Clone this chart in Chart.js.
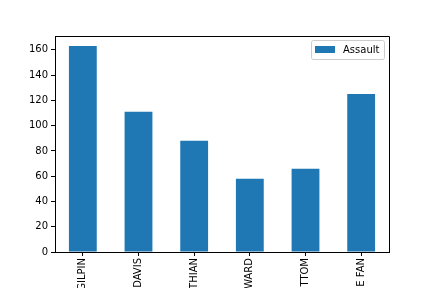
<!DOCTYPE html>
<html lang="en">
<head>
    <meta charset="UTF-8">
    <title>Assault</title>
    <script src="https://cdn.jsdelivr.net/npm/chart.js"></script>
    <style>
        html, body { margin: 0; padding: 0; background: #fff; }
        #wrap { width: 432px; height: 288px; }
    </style>
</head>
<body>

<div id="wrap">
    <canvas id="barChart" width="432" height="288"></canvas>
</div>

<script>
    const categories = ['GILPIN', 'DAVIS', 'THIAN', 'WARD', 'TTOM', 'E FAN'];
    const assault = [163, 111, 88, 58, 66, 125];
    const yTicks = [0, 20, 40, 60, 80, 100, 120, 140, 160];

    const FONT = 'DejaVu Sans';

    // matplotlib style legend box, upper right
    const legendBox = {
        id: 'legendBox',
        afterDraw(chart) {
            const ctx = chart.ctx;
            const area = chart.chartArea;
            const x = area.right - 78, y = area.top + 4, w = 73, h = 19;
            ctx.save();
            ctx.fillStyle = 'rgba(255,255,255,0.8)';
            ctx.strokeStyle = '#cccccc';
            ctx.lineWidth = 1;
            ctx.beginPath();
            ctx.roundRect(x + 0.5, y + 0.5, w, h, 2);
            ctx.fill();
            ctx.stroke();
            ctx.fillStyle = '#1f77b4';
            ctx.fillRect(x + 4, y + 6, 20, 7);
            ctx.fillStyle = '#000';
            ctx.font = '10px ' + FONT;
            ctx.textBaseline = 'middle';
            ctx.fillText('Assault', x + 32, y + 10);
            ctx.restore();
        }
    };

    const chart = new Chart(document.getElementById('barChart').getContext('2d'), {
        type: 'bar',
        data: {
            labels: categories,
            datasets: [{
                label: 'Assault',
                data: assault,
                backgroundColor: '#1f77b4',
                borderWidth: 0,
                barPercentage: 0.5,
                categoryPercentage: 1.0
            }]
        },
        options: {
            responsive: false,
            animation: false,
            layout: { padding: { top: 36, right: 43, left: 0, bottom: 0 } },
            plugins: {
                legend: { display: false },
                tooltip: { enabled: false }
            },
            scales: {
                x: {
                    offset: true,
                    grid: { drawOnChartArea: false, color: '#000', tickLength: 4, offset: false },
                    border: { color: '#000', width: 1 },
                    ticks: {
                        color: '#000',
                        font: { family: FONT, size: 10 },
                        maxRotation: 90,
                        minRotation: 90,
                        padding: 2,
                        autoSkip: false
                    },
                    afterFit(scale) { scale.height = 36; }
                },
                y: {
                    min: 0,
                    max: 171,
                    grid: { drawOnChartArea: false, color: '#000', tickLength: 4 },
                    border: { color: '#000', width: 1 },
                    afterBuildTicks(scale) {
                        scale.ticks = yTicks.map(v => ({ value: v }));
                    },
                    ticks: {
                        color: '#000',
                        font: { family: FONT, size: 10 },
                        padding: 3
                    },
                    afterFit(scale) { scale.width = 55; }
                }
            }
        },
        plugins: [legendBox]
    });

    // right and top spines
    chart.options.plugins.spines = {};
    Chart.register({
        id: 'spines',
        afterDraw(c) {
            const a = c.chartArea, ctx = c.ctx;
            ctx.save();
            ctx.strokeStyle = '#000';
            ctx.lineWidth = 1;
            ctx.beginPath();
            ctx.moveTo(Math.round(a.left) + 0.5, Math.round(a.top) + 0.5);
            ctx.lineTo(Math.round(a.right) + 0.5, Math.round(a.top) + 0.5);
            ctx.lineTo(Math.round(a.right) + 0.5, Math.round(a.bottom) + 0.5);
            ctx.stroke();
            ctx.restore();
        }
    });
    chart.update();
</script>

</body>
</html>
